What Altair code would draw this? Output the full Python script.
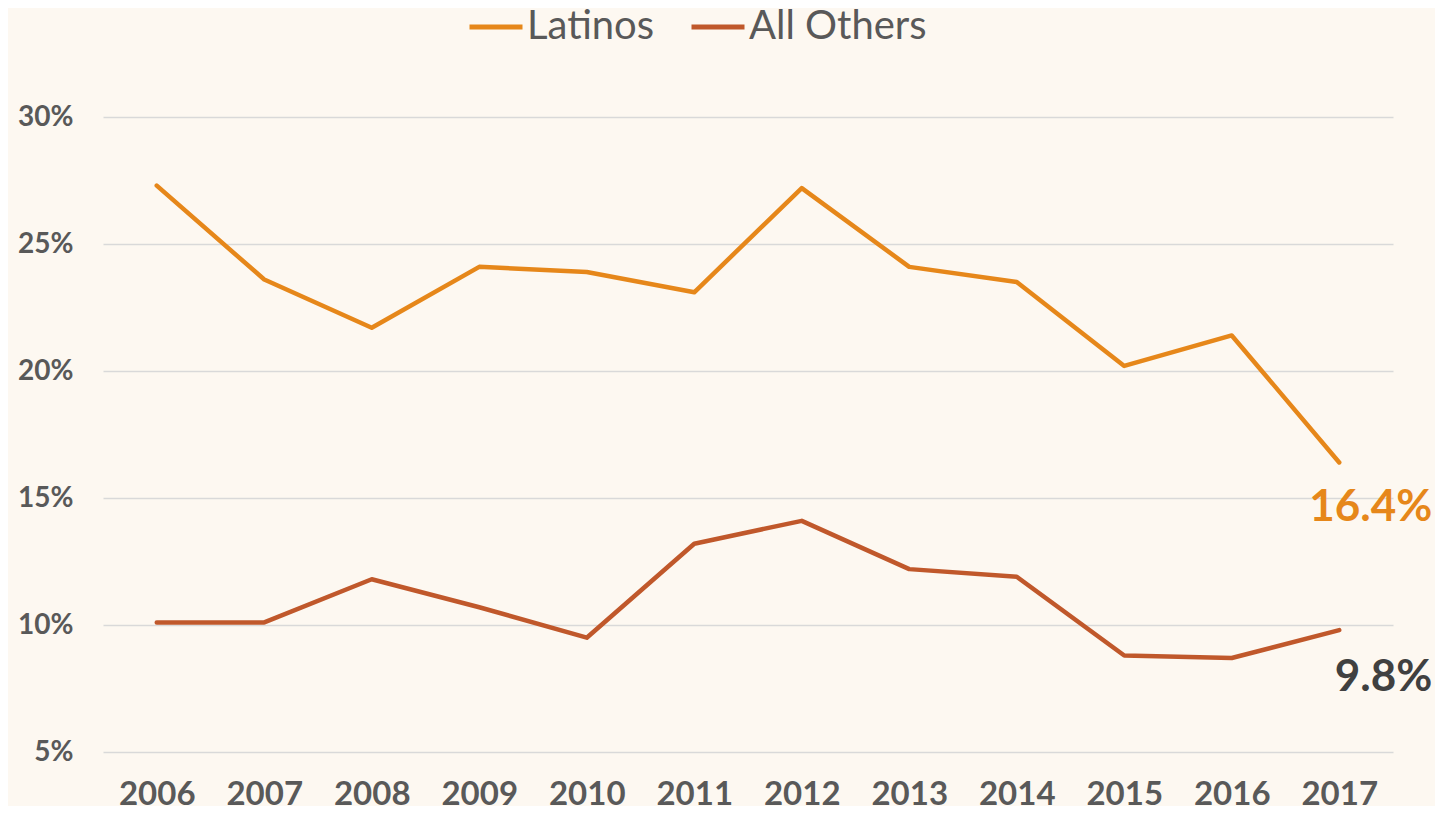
import altair as alt
import pandas as pd

years = ["2006", "2007", "2008", "2009", "2010", "2011", "2012", "2013", "2014", "2015", "2016", "2017"]
latinos = [27.3, 23.6, 21.7, 24.1, 23.9, 23.1, 27.2, 24.1, 23.5, 20.2, 21.4, 16.4]
all_others = [10.1, 10.1, 11.8, 10.7, 9.5, 13.2, 14.1, 12.2, 11.9, 8.8, 8.7, 9.8]
series_names = ["Latinos", "All Others"]
series_colors = ["#E6871A", "#C0582B"]
y_ticks = [5, 10, 15, 20, 25, 30]

rows = []
for name, vals in zip(series_names, [latinos, all_others]):
    for y, v in zip(years, vals):
        rows.append({"year": y, "value": v, "series": name})
df = pd.DataFrame(rows)

FONT = "Lato"

x_enc = alt.X(
    "year:O",
    scale=alt.Scale(type="point", padding=0.5),
    axis=alt.Axis(
        title=None, labelAngle=0, domain=False, ticks=False,
        labelFont=FONT, labelFontWeight="bold", labelFontSize=33,
        labelColor="#595959", labelPadding=26,
    ),
)
y_enc = alt.Y(
    "value:Q",
    scale=alt.Scale(domain=[5, 30], nice=False, zero=False),
    axis=alt.Axis(
        title=None, values=y_ticks, domain=False, ticks=False,
        labelExpr="datum.value + '%'",
        labelFont=FONT, labelFontWeight="bold", labelFontSize=28,
        labelColor="#595959", labelPadding=30,
        grid=True, gridColor="#D9D9D9", gridWidth=1.5,
    ),
)

lines = alt.Chart(df).mark_line(strokeWidth=4.5, strokeCap="round", strokeJoin="round").encode(
    x=x_enc,
    y=y_enc,
    color=alt.Color(
        "series:N",
        scale=alt.Scale(domain=series_names, range=series_colors),
        sort=series_names,
        legend=alt.Legend(
            title=None, orient="none", direction="horizontal",
            legendX=364, legendY=-119,
            symbolType="stroke", symbolSize=2809, symbolStrokeWidth=5,
            labelFont=FONT, labelFontSize=40, labelColor="#595959",
            labelOffset=2, columnPadding=26, symbolOffset=0, labelLimit=400,
        ),
    ),
)

base_lab = alt.Chart(df).transform_filter(
    alt.datum.year == years[-1]
).transform_calculate(
    label="format(datum.value, '.1f') + '%'"
)

lab_lat = base_lab.transform_filter(alt.datum.series == series_names[0]).mark_text(
    align="right", baseline="middle", dx=93, dy=46,
    font=FONT, fontWeight="bold", fontSize=44, color=series_colors[0],
).encode(x="year:O", y="value:Q", text="label:N")

lab_oth = base_lab.transform_filter(alt.datum.series == series_names[1]).mark_text(
    align="right", baseline="middle", dx=93, dy=48,
    font=FONT, fontWeight="bold", fontSize=44, color="#404040",
).encode(x="year:O", y="value:Q", text="label:N")

chart = alt.layer(lines, lab_lat, lab_oth).properties(
    width=1290, height=635,
    background="#FDF8F1",
    autosize=alt.AutoSizeParams(type="none"),
    padding={"left": 95, "top": 109, "right": 42, "bottom": 54},
).configure_view(stroke=None)

chart.save("out.html", embed_options={"renderer": "svg", "actions": False})
